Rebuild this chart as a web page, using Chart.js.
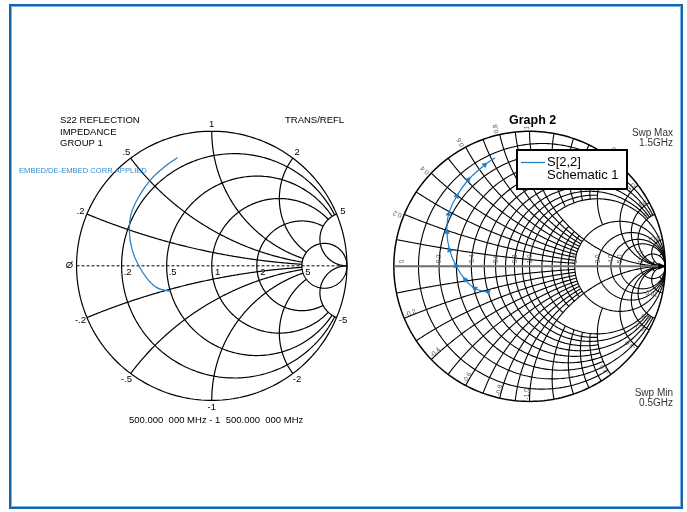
<!DOCTYPE html>
<html>
<head>
<meta charset="utf-8">
<script src="https://cdn.jsdelivr.net/npm/chart.js@4.4.1/dist/chart.umd.min.js"></script>
<style>
  body { margin: 0; background: #fff; }
  #wrap { position: relative; width: 687px; height: 512px; }
  #frame { position: absolute; left: 9px; top: 4px; width: 670px; height: 501px;
           border: 2px solid #1565a8; box-shadow: inset 0 0 0 1px #7ab3e0; pointer-events: none; }
  canvas { position: absolute; left: 0; top: 0; }
</style>
</head>
<body>
<div id="wrap">
  <canvas id="smith" width="687" height="512"></canvas>
  <div id="frame"></div>
</div>
<script>
// S22 sweep 0.5 .. 1.5 GHz, reflection coefficient (re, im)
const freqGHz = [0.5, 0.6, 0.7, 0.8, 0.9, 1.0, 1.1, 1.2, 1.3, 1.4, 1.5];
const s22Re = [-0.305, -0.402, -0.475, -0.543, -0.589, -0.609, -0.596, -0.536, -0.451, -0.330, -0.253];
const s22Im = [-0.191, -0.164, -0.098, 0.006, 0.120, 0.253, 0.387, 0.520, 0.641, 0.751, 0.804];

// analyzer style grid (left)
const leftR = [0.2, 0.5, 1, 2, 5];
const leftRLimit = [5, 5, 5, 5, Infinity];
const leftX = [0.2, 0.5, 1, 2, 5];
const leftXLimit = [5, 5, 5, 5, Infinity];
const leftRLabels = ['.2', '.5', '1', '2', '5'];
const leftXLabels = ['.2', '.5', '1', '2', '5'];
const leftNegXLabels = ['-.2', '-.5', '-1', '-2', '-5'];

// fine grid (right): value and how far along the other family each line runs
const gridR      = [0.1, 0.2, 0.3, 0.4, 0.5, 0.6, 0.7, 0.8, 0.9, 1.0, 1.2, 1.4, 1.6, 1.8, 2.0, 3.0, 4.0, 5.0, 10, 20, 50];
const gridRLimit = [2, 5, 2, 5, 2, 5, 2, 5, 2, Infinity, 1, 1, 1, 1, Infinity, Infinity, Infinity, Infinity, Infinity, 10, 10];
const gridX      = [0.1, 0.2, 0.3, 0.4, 0.5, 0.6, 0.7, 0.8, 0.9, 1.0, 1.2, 1.4, 1.6, 1.8, 2.0, 3.0, 4.0, 5.0, 10, 20, 50];
const gridXLimit = [2, 2, 2, 2, 2, 2, 2, 2, 2, Infinity, 1, 1, 1, 1, 2, Infinity, Infinity, Infinity, Infinity, 10, 10];
const rAxisTicks = [0, 0.2, 0.4, 0.6, 0.8, 1.0, 2.0, 3.0, 4.0, 5.0, 10.0];
const xRimTicks = [0.2, 0.4, 0.6, 0.8, 1.0, 2.0, 3.0, 4.0, 5.0, 10.0];

const W = 687, H = 512;
const LEFT = { cx: 210, cy: 266, rad: 137 };
const RIGHT = { cx: 532, cy: 266.5, rad: 137.5 };
const BLUE = '#1f7fc6';
const FONT = '"Liberation Sans", Arial, sans-serif';

function gamma(r, x) {
  const den = (r + 1) * (r + 1) + x * x;
  return { re: (r * r + x * x - 1) / den, im: 2 * x / den };
}

// points of a constant resistance circle for |x| <= xlim
function rCircle(r, xlim) {
  const a = 1 + r, um = Math.atan(xlim / a), pts = [];
  for (let i = 0; i <= 240; i++) {
    const u = -um + 2 * um * i / 240;
    pts.push(gamma(r, a * Math.tan(u)));
  }
  return pts;
}

// points of a constant reactance arc for 0 <= r <= rlim
function xArc(x, rlim) {
  const ax = Math.abs(x), t0 = Math.atan2(ax, 1), t1 = Math.atan2(ax, rlim + 1), pts = [];
  for (let i = 0; i <= 200; i++) {
    const t = t0 + (t1 - t0) * i / 200;
    if (t < 1e-9) { pts.push({ re: 1, im: 0 }); continue; }
    const r = Math.max(0, ax / Math.tan(t) - 1);
    const p = gamma(r, ax);
    pts.push({ re: p.re, im: x < 0 ? -p.im : p.im });
  }
  return pts;
}

function strokePts(ctx, xs, ys, pts) {
  ctx.beginPath();
  pts.forEach((p, i) => {
    const px = xs.getPixelForValue(p.re), py = ys.getPixelForValue(p.im);
    if (i === 0) ctx.moveTo(px, py); else ctx.lineTo(px, py);
  });
  ctx.stroke();
}

const smithGrid = {
  id: 'smithGrid',
  beforeDatasetsDraw(chart) {
    const ctx = chart.ctx, s = chart.scales;
    ctx.save();
    ctx.strokeStyle = '#000';
    ctx.lineJoin = 'round';

    // left chart
    ctx.lineWidth = 1.2;
    strokePts(ctx, s.xL, s.yL, rCircle(0, Infinity));
    leftR.forEach((r, i) => strokePts(ctx, s.xL, s.yL, rCircle(r, leftRLimit[i])));
    leftX.forEach((x, i) => {
      strokePts(ctx, s.xL, s.yL, xArc(x, leftXLimit[i]));
      strokePts(ctx, s.xL, s.yL, xArc(-x, leftXLimit[i]));
    });
    ctx.lineWidth = 1;
    ctx.setLineDash([3, 2]);
    strokePts(ctx, s.xL, s.yL, [{ re: -1, im: 0 }, { re: 1, im: 0 }]);
    ctx.setLineDash([]);

    // right chart
    ctx.lineWidth = 1.1;
    gridR.forEach((r, i) => strokePts(ctx, s.xR, s.yR, rCircle(r, gridRLimit[i])));
    gridX.forEach((x, i) => {
      strokePts(ctx, s.xR, s.yR, xArc(x, gridXLimit[i]));
      strokePts(ctx, s.xR, s.yR, xArc(-x, gridXLimit[i]));
    });
    ctx.lineWidth = 1.5;
    strokePts(ctx, s.xR, s.yR, rCircle(0, Infinity));
    ctx.strokeStyle = '#6e6e6e';
    ctx.lineWidth = 2;
    strokePts(ctx, s.xR, s.yR, [{ re: -1, im: 0 }, { re: 0.97, im: 0 }]);
    const tipX = s.xR.getPixelForValue(1), tipY = s.yR.getPixelForValue(0);
    ctx.fillStyle = '#000';
    ctx.beginPath();
    ctx.moveTo(tipX + 1, tipY);
    ctx.lineTo(tipX - 7, tipY - 3.5);
    ctx.lineTo(tipX - 7, tipY + 3.5);
    ctx.closePath();
    ctx.fill();
    ctx.restore();
  },
  afterDatasetsDraw(chart) {
    const ctx = chart.ctx, s = chart.scales;
    ctx.save();

    // left chart labels
    ctx.fillStyle = '#000';
    ctx.font = '9.5px ' + FONT;
    ctx.textAlign = 'center';
    ctx.textBaseline = 'middle';
    const rimLabel = (x, text) => {
      const p = gamma(0, x), th = Math.atan2(p.im, p.re);
      ctx.fillText(text, s.xL.getPixelForValue(p.re) + 7 * Math.cos(th),
                   s.yL.getPixelForValue(p.im) - 7 * Math.sin(th));
    };
    leftX.forEach((x, i) => { rimLabel(x, leftXLabels[i]); rimLabel(-x, leftNegXLabels[i]); });
    const axisY = s.yL.getPixelForValue(0);
    leftR.forEach((r, i) => {
      ctx.fillText(leftRLabels[i], s.xL.getPixelForValue((r - 1) / (r + 1)) + 6, axisY + 6.5);
    });
    ctx.fillText('\u00D8', s.xL.getPixelForValue(-1) - 7, axisY);

    ctx.textAlign = 'left';
    ctx.fillText('S22 REFLECTION', 60, 120);
    ctx.fillText('IMPEDANCE', 60, 132);
    ctx.fillText('GROUP 1', 60, 143.5);
    ctx.fillText('TRANS/REFL', 285, 120);
    ctx.fillText('500.000  000 MHz - 1  500.000  000 MHz', 129, 420.5);
    ctx.fillStyle = '#2b8ed3';
    ctx.font = '7.6px ' + FONT;
    ctx.fillText('EMBED/DE-EMBED CORR APPLIED', 19, 170.5);

    // right chart labels
    ctx.fillStyle = '#555';
    ctx.font = '6.5px ' + FONT;
    const rAxisY = s.yR.getPixelForValue(0);
    rAxisTicks.forEach(r => {
      let px = s.xR.getPixelForValue((r - 1) / (r + 1));
      if (r === 0) px += 8;
      ctx.save();
      ctx.translate(px + 0.5, rAxisY - 3);
      ctx.rotate(-Math.PI / 2);
      ctx.textAlign = 'left';
      ctx.textBaseline = 'middle';
      ctx.fillText(r === 0 ? '0' : r.toFixed(1), 0, 0);
      ctx.restore();
    });
    const mwoRim = (x, text, inside) => {
      const p = gamma(0, x), th = Math.atan2(p.im, p.re);
      const dir = ((th % Math.PI) + Math.PI) % Math.PI;
      ctx.save();
      ctx.translate(s.xR.getPixelForValue(p.re), s.yR.getPixelForValue(p.im));
      ctx.rotate(-dir);
      ctx.textBaseline = 'bottom';
      if (inside) { ctx.textAlign = 'right'; ctx.fillText(text, -2, 1); }
      else { ctx.textAlign = 'left'; ctx.fillText(text, 2, 1); }
      ctx.restore();
    };
    xRimTicks.forEach(x => {
      mwoRim(x, x.toFixed(1), x >= 3);
      mwoRim(-x, (-x).toFixed(1), false);
    });

    // legend box
    ctx.fillStyle = '#fff';
    ctx.fillRect(517, 150, 110, 39);
    ctx.strokeStyle = '#000';
    ctx.lineWidth = 2;
    ctx.strokeRect(517, 150, 110, 39);
    ctx.strokeStyle = BLUE;
    ctx.lineWidth = 1.3;
    ctx.beginPath();
    ctx.moveTo(521, 162.5);
    ctx.lineTo(545, 162.5);
    ctx.stroke();
    ctx.fillStyle = '#000';
    ctx.font = '13px ' + FONT;
    ctx.textAlign = 'left';
    ctx.textBaseline = 'middle';
    ctx.fillText(chart.data.datasets[1].label, 547, 162.5);
    ctx.fillText('Schematic 1', 547, 175);

    // title and sweep notes
    ctx.font = 'bold 12.5px ' + FONT;
    const tw = ctx.measureText('Graph 2').width;
    ctx.fillStyle = '#fff';
    ctx.fillRect(508, 114, tw + 3, 13);
    ctx.fillStyle = '#000';
    ctx.fillText('Graph 2', 509, 121);
    ctx.fillStyle = '#333';
    ctx.font = '10px ' + FONT;
    ctx.textAlign = 'right';
    ctx.fillText('Swp Max', 673, 133);
    ctx.fillText(freqGHz[freqGHz.length - 1] + 'GHz', 673, 143);
    ctx.fillText('Swp Min', 673, 393);
    ctx.fillText(freqGHz[0] + 'GHz', 673, 403);
    ctx.restore();
  }
};

const s22Points = s22Re.map((re, i) => ({ x: re, y: s22Im[i] }));
const n = s22Points.length;

new Chart(document.getElementById('smith'), {
  type: 'scatter',
  data: {
    datasets: [
      {
        label: 'S22',
        data: s22Points,
        xAxisID: 'xL',
        yAxisID: 'yL',
        showLine: true,
        borderColor: BLUE,
        borderWidth: 1.2,
        pointRadius: 0,
        tension: 0.4
      },
      {
        label: 'S[2,2]',
        data: s22Points,
        xAxisID: 'xR',
        yAxisID: 'yR',
        showLine: true,
        borderColor: BLUE,
        borderWidth: 1.2,
        tension: 0.4,
        pointStyle: 'triangle',
        pointRadius: ctx => (ctx.dataIndex < n - 1 ? 3 : 0),
        pointBackgroundColor: BLUE,
        pointBorderColor: BLUE,
        pointBorderWidth: 0.5,
        rotation: ctx => {
          const i = ctx.dataIndex;
          const a = s22Points[Math.max(i - 1, 0)], b = s22Points[Math.min(i + 1, n - 1)];
          return Math.atan2(b.x - a.x, b.y - a.y) * 180 / Math.PI;
        }
      }
    ]
  },
  options: {
    responsive: false,
    animation: false,
    layout: { padding: 0 },
    plugins: { legend: { display: false }, tooltip: { enabled: false } },
    scales: {
      xL: { type: 'linear', display: false, bounds: 'data', min: -LEFT.cx / LEFT.rad, max: (W - LEFT.cx) / LEFT.rad },
      yL: { type: 'linear', display: false, bounds: 'data', min: -(H - LEFT.cy) / LEFT.rad, max: LEFT.cy / LEFT.rad },
      xR: { type: 'linear', display: false, bounds: 'data', min: -RIGHT.cx / RIGHT.rad, max: (W - RIGHT.cx) / RIGHT.rad },
      yR: { type: 'linear', display: false, bounds: 'data', min: -(H - RIGHT.cy) / RIGHT.rad, max: RIGHT.cy / RIGHT.rad }
    }
  },
  plugins: [smithGrid]
});
</script>
</body>
</html>
